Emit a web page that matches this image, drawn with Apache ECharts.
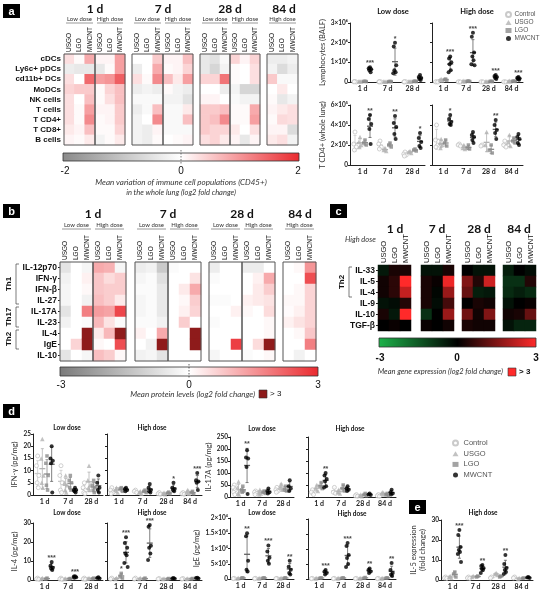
<!DOCTYPE html>
<html><head><meta charset="utf-8">
<script src="https://cdn.jsdelivr.net/npm/echarts@6/dist/echarts.min.js"></script>
<style>html,body{margin:0;padding:0;background:#fff}#c{width:546px;height:590px}</style>
</head><body><div id="c"></div>
<script>
// ---------- categories ----------
const groups = ['Control','USGO','LGO','MWCNT'];
const days3 = ['1 d','7 d','28 d'];
const days4 = ['1 d','7 d','28 d','84 d'];
const materials = ['USGO','LGO','MWCNT'];
const cellTypes = ['cDCs','Ly6c+ pDCs','cd11b+ DCs','MoDCs','NK cells','T cells','T CD4+','T CD8+','B cells'];
const proteins = ['IL-12p70','IFN-γ','IFN-β','IL-27','IL-17A','IL-23','IL-4','IgE','IL-10'];
const genes = ['IL-33','IL-5','IL-4','IL-9','IL-10','TGF-β'];

// ---------- panel a heatmap (log2 FC): cols = low USGO, LGO, MWCNT, high USGO, LGO, MWCNT ----------
const aDay1 = [
 [0.3,0.05,0.8,0.1,0.1,0.9],[-0.3,-0.4,-0.4,-0.4,0.05,0.9],[0.3,0.0,1.4,0.9,1.0,1.5],
 [0.4,0.5,0.5,0.05,0.4,0.6],[0.3,0.0,0.6,0.05,0.3,0.6],[0.3,0.05,0.9,0.1,0.1,0.5],
 [0.3,0.05,1.1,0.05,0.1,0.5],[0.2,0.1,0.6,0.05,0.05,0.4],[0.1,0.05,0.2,-0.2,0.05,0.2]];
const aDay7 = [
 [0.0,0.0,0.5,0.1,0.1,0.6],[-0.3,0.0,0.8,0.05,0.1,0.4],[0.3,0.05,1.1,0.6,0.2,0.9],
 [-0.3,-0.2,-0.3,0.05,-0.2,-0.3],[-0.1,-0.1,-0.1,-0.2,-0.2,-0.5],[-0.3,-0.1,0.6,-0.1,-0.1,0.2],
 [-0.2,0.0,1.1,-0.1,-0.1,0.6],[-0.2,-0.3,0.1,-0.1,-0.1,-0.1],[-0.2,-0.3,0.05,0.0,0.05,0.1]];
const aDay28 = [
 [-0.4,-0.5,-0.1,0.4,0.1,0.4],[-0.4,-0.7,-0.2,0.05,0.0,0.3],[0.4,0.4,1.3,0.05,0.0,0.3],
 [0.0,0.0,-0.3,-0.2,-0.7,-0.7],[0.1,0.1,0.0,-0.1,-0.2,-0.2],[0.5,0.5,0.6,0.05,0.05,0.8],
 [0.5,0.6,1.1,0.05,0.05,0.9],[0.5,0.4,0.4,0.2,0.0,0.3],[0.3,0.4,0.2,0.1,-0.4,0.1]];
const aDay84 = [
 [-0.3,-0.3,-0.2],[-0.2,-0.6,-0.3],[0.5,-0.1,-0.1],[0.0,0.2,0.0],[0.05,-0.4,-0.2],
 [0.1,0.2,0.3],[0.05,0.35,0.3],[0.1,0.1,-0.6],[0.2,0.3,-0.2]];

// ---------- panel b heatmap (log2 FC, 4 = "> 3") ----------
const bDay1 = [
 [-0.6,0.0,-0.2,1.2,1.1,-0.2],[-0.3,0.0,0.2,0.8,0.5,0.7],[-0.2,0.0,0.1,0.8,0.7,0.7],
 [-0.2,0.0,-0.3,0.9,0.7,0.3],[-0.6,0.0,1.8,1.4,1.3,2.6],[-0.3,0.0,-0.1,1.0,0.4,-0.1],
 [0.0,0.0,4,0.3,1.0,4],[0.0,0.6,4,0.1,0.0,2.5],[-0.6,0.0,-0.2,0.9,0.7,0.1]];
const bDay7 = [
 [-0.4,-0.3,-1.2,-0.1,0.0,0.0],[-0.2,-0.1,-0.7,0.0,0.0,0.4],[-0.1,-0.1,-0.5,0.0,0.3,1.2],
 [-0.2,-0.1,-0.5,0.0,0.1,0.7],[-0.2,-0.1,-0.5,0.0,0.2,0.6],[-0.1,-0.1,-0.3,0.0,0.7,0.0],
 [0.2,0.0,1.2,0.0,0.0,4],[0.0,-0.3,4,0.0,0.0,4],[-0.3,-0.2,-0.6,0.0,0.0,0.0]];
const bDay28 = [
 [-0.4,0.0,0.0,-0.4,-0.4,0.0],[-0.1,0.0,0.0,0.0,0.2,1.2],[0.0,0.0,0.0,0.0,0.3,0.7],
 [-0.1,-0.1,0.0,0.2,0.3,0.4],[0.0,0.0,0.2,0.1,0.0,0.5],[-0.1,0.0,0.0,0.0,0.0,0.1],
 [0.0,0.0,0.0,0.0,0.0,0.1],[0.0,0.0,2.7,0.0,0.5,4],[-0.2,0.0,0.0,-0.1,0.0,0.1]];
const bDay84 = [
 [0.0,0.1,1.5],[0.0,0.0,2.5],[0.0,0.1,0.6],[0.1,0.1,0.6],[0.05,0.2,0.6],
 [0.2,0.4,0.6],[0.0,0.1,0.8],[0.0,0.0,1.8],[0.0,-0.3,0.0]];

// ---------- panel c heatmap (high dose, log2 FC) ----------
const cDay1 = [[-0.4,0.3,0.3],[0.2,0.5,3],[0.2,0.5,2.3],[-0.3,-0.2,0.4],[0.3,-0.4,3],[0,0.1,0]];
const cDay7 = [[-0.3,-0.3,0.3],[0.3,0.1,2.8],[0.3,-0.1,1.8],[0.3,-0.2,0.8],[-0.8,0,1.8],[0.1,0,0.2]];
const cDay28 = [[0,-0.3,-0.3],[1.5,0.4,2.4],[1.2,-0.5,-0.4],[0,0.3,0.2],[1.3,0.2,1.5],[0.3,0.2,0.2]];
const cDay84 = [[-0.5,0,-0.2],[-0.8,-0.8,0.4],[-0.7,-0.5,-0.7],[-0.3,0,0.1],[0.2,0.3,1.2],[-0.3,-0.6,-0.6]];

// ---------- scatter data: [group][timepoint] = individual values ----------
const lymphLow = [
 [[2e4,1e4,0,1.5e4],[1e4,5e3,0,1e4],[1e4,0,5e3,1e4]],
 [[4e4,3e4,2e4],[3e4,2e4,1e4],[4e4,3e4,2e4]],
 [[4e4,3e4,2e4],[3e4,2e4,2e4],[5e4,3e4,2e4]],
 [[7.5e5,7e5,6.5e5,6e5,5e5],[2e6,1.8e6,8.5e5,6e5,5e5,4.5e5],[3.5e5,2.5e5,2e5,1.5e5,1e5]]];
const lymphLowStars = [[0,3,'***'],[1,3,'*']];
const lymphHigh = [
 [[1e4,5e3,0],[1e4,5e3,0],[1e4,5e3,0],[1e4,5e3,0]],
 [[1.5e5,1e5,8e4],[6e4,4e4,3e4],[3e4,2e4,1e4],[6e4,4e4,2e4]],
 [[1.5e5,1.2e5,8e4],[5e4,4e4,3e4],[4e4,3e4,2e4],[5e4,4e4,3e4]],
 [[1.3e6,1.2e6,1e6,9e5,6e5,5e5],[2.5e6,2.3e6,1.5e6,1.3e6,1.1e6,9e5,8.5e5],[3.5e5,3e5,2.5e5,2e5,1.5e5],[2.5e5,2.2e5,1.8e5,1.5e5,1.2e5]]];
const lymphHighStars = [[0,3,'***'],[1,3,'***'],[2,3,'***'],[3,3,'***']];
const tcd4Low = [
 [[3.3e5,2.1e5,1.8e5,1.5e5],[2.4e5,2.1e5,1.8e5,1.6e5],[1.3e5,1.1e5,1e5,0.9e5]],
 [[2.8e5,2.3e5,2e5,1.8e5],[1.7e5,1.5e5,1.4e5],[1.4e5,1.3e5,1.2e5]],
 [[2.5e5,2.2e5,2e5],[2.2e5,2e5,1.8e5],[1.6e5,1.5e5,1.4e5]],
 [[5e5,4.6e5,4.1e5,3.6e5,2.1e5],[4.9e5,4.2e5,3.8e5,3.1e5,2.6e5],[3.2e5,2.7e5,2.3e5,1.9e5,1.7e5]]];
const tcd4LowStars = [[0,3,'**'],[1,3,'**'],[2,3,'*']];
const tcd4High = [
 [[4e5,2.5e5,2e5,1.8e5],[2.1e5,2e5,1.9e5],[2e5,1.9e5],[2.4e5,2e5,1.8e5]],
 [[2.6e5,2.2e5,2e5,1.7e5],[2e5,1.7e5,1.6e5],[3.3e5,2e5,1.5e5],[3e5,2.3e5,1.9e5]],
 [[2.5e5,2.2e5,1.9e5],[2e5,1.7e5,1.6e5],[2e5,1.5e5,1.2e5],[2.7e5,2.4e5,2.2e5]],
 [[5e5,4.6e5,4.3e5,4.1e5,4e5],[3.3e5,3e5,2.8e5,2.5e5,2.2e5],[4.5e5,4e5,3.5e5,3.2e5,2.6e5],[3.1e5,2.8e5,2.6e5,2.2e5,2e5]]];
const tcd4HighStars = [[0,3,'*'],[2,3,'**']];
const ifnLow = [
 [[16,12,8,5,3],[12,8,5,2,1],[5,3,2,1,0.5]],
 [[23,15,8,5,3],[8,5,4,2,1],[12,6,4,3,2]],
 [[16,13,8,4,2],[8,6,5,3,2],[6,4,3,2,1]],
 [[20,15,14,13,1],[3,2,2,1.5,1],[8,5,3,2,1]]];
const ifnLowStars = [];
const ifnHigh = [
 [[3,2,1,0.5],[2,1.5,1],[1,0.5,0.3],[1,0.5,0.3]],
 [[3,2,1],[1.5,1,0.5],[1,0.5,0.3],[2,1,0.5]],
 [[3,2.5,1.5],[2,1.5,1],[1.2,0.8,0.5],[1.5,1,0.5]],
 [[3,2.5,2,1.5],[4.5,3,2,1.5,1],[5,3,2.5,2,1.5],[9,6,5.5,5,2]]];
const ifnHighStars = [[2,3,'*'],[3,3,'***']];
const il17Low = [
 [[50,40,30,20,10],[25,20,15,10],[40,30,25,20]],
 [[65,40,25,15,10],[30,20,15,10],[55,40,30]],
 [[45,30,25,20],[25,20,15],[45,30,25]],
 [[195,165,160,125,12],[35,25,20,15],[70,45,35,25]]];
const il17LowStars = [[0,3,'**']];
const il17High = [
 [[30,20,10],[40,20,15],[10,5,3],[10,5,3]],
 [[50,35,25],[30,20,15],[10,5,3],[20,15,10]],
 [[60,45,35],[50,35,25],[15,10,5],[15,10,5]],
 [[100,90,75,65,45,40],[45,35,30,25],[15,10,8],[30,20,15,10]]];
const il17HighStars = [[0,3,'**']];
const il4Low = [
 [[1,0.5,0.3],[1,0.5,0.3],[1,0.5,0.3]],
 [[1,0.5],[0.8,0.5],[1,0.6]],
 [[1,0.5],[0.8,0.6],[1,0.6]],
 [[9.5,7.5,6.5,6,5.3],[2,1.8,1.5,1.2],[1.5,1,0.8]]];
const il4LowStars = [[0,3,'***'],[1,3,'***']];
const il4High = [
 [[1,0.5],[1,0.5],[0.8,0.5],[0.8,0.5]],
 [[1,0.5],[1,0.5],[0.8,0.5],[0.8,0.5]],
 [[3.5,2,1],[1,0.5],[0.8,0.5],[0.8,0.5]],
 [[22.5,19.5,17,14,13,9,6.8],[29,28,18,17,14,10.5],[1,0.8,0.6],[1.2,1,0.8]]];
const il4HighStars = [[0,2,'*'],[0,3,'***'],[1,3,'***']];
const igeLow = [
 [[200,100],[200,100],[200,100]],
 [[300,200],[300,200],[300,200]],
 [[400,300],[400,300],[400,300]],
 [[15000,14000,6000,3000,2500],[11000,9000,7000,6000,5000],[6000,4000,3000,2000,1500]]];
const igeLowStars = [[0,3,'**'],[1,3,'***'],[2,3,'**']];
const igeHigh = [
 [[200,100],[200,100],[200,100],[200,100]],
 [[300,200],[300,200],[300,200],[300,200]],
 [[400,300],[400,300],[500,300],[400,300]],
 [[3000,2500,2000,1500],[12000,11000,8000,7000,5000,4000],[3500,3000,2500,2000],[5300,3000,2000,1500,1000]]];
const igeHighStars = [[0,3,'***'],[1,3,'***'],[2,3,'**'],[3,3,'**']];
const il5 = [
 [[1.5,1,0.8],[1.5,1,0.8],[1.5,1],[1.5,1]],
 [[2,1.5,1],[2,1.5],[3.5,3,2.5],[1,0.5]],
 [[4,3,1.5],[2,1.5],[2,1.5],[1,0.8]],
 [[25,22.5,16.5,15,14,13,9],[7.5,7,6,5.5,5,3.5],[12.5,8,6,5,4,3],[1.5,1.2,1]]];
const il5Stars = [[0,3,'***'],[1,3,'**'],[2,3,'**']];

// ---------- builders ----------
const grids=[], xAxes=[], yAxes=[], series=[], G=[];
const vmA=[], vmB=[], vmC=[];
const LAB='Liberation Sans', CAL='Lato';

function heat(o){
  const gi=grids.push({left:o.left,top:o.top,width:o.width,height:o.height,show:!!o.border,
    borderColor:o.border||'rgba(0,0,0,0)',borderWidth:1,backgroundColor:'rgba(0,0,0,0)',z:10})-1;
  const xi=xAxes.push({gridIndex:gi,type:'category',position:'top',data:materials,
    axisLine:{show:false},axisTick:{show:false},splitLine:{show:false},axisLabel:{show:false}})-1;
  const yi=yAxes.push({gridIndex:gi,type:'category',inverse:true,data:o.rows,
    axisLine:{show:false},axisTick:{show:!!(o.showRows&&o.tick),alignWithLabel:true,interval:0,length:2,lineStyle:{color:'#222'}},
    splitLine:{show:false},
    axisLabel:{show:!!o.showRows,interval:0,fontSize:o.ysize,fontWeight:'bold',margin:3,color:'#111',fontFamily:LAB}})-1;
  // column (material) labels, rotated, reading bottom-to-top
  materials.forEach((m,c)=>T(o.left+(c+0.5)*o.width/3,o.top-2,m,{size:o.xsize,rot:Math.PI/2,align:'left',color:'#111'}));
  const normal=[],over=[];
  o.values.forEach((row,r)=>{for(let c=0;c<3;c++){const v=row[o.colStart+c];(v>3?over:normal).push([c,r,v]);}});
  o.vm.push(series.push({type:'heatmap',xAxisIndex:xi,yAxisIndex:yi,data:normal,silent:true,z:2})-1);
  if(over.length) series.push({type:'heatmap',xAxisIndex:xi,yAxisIndex:yi,data:over,silent:true,itemStyle:{color:'#8e1b1b'},z:2});
}

const OFF=[-0.3,-0.1,0.1,0.3];
const JIT=[0,-0.05,0.05,-0.025,0.025,-0.07,0.07];
const SYM=['circle','triangle','rect','circle'];
const SIZE=[4,4.5,3.5,4];
const ISTY=[{color:'#fff',borderColor:'#bdbdbd',borderWidth:0.9},{color:'#b3b3b3'},{color:'#8c8c8c'},{color:'#000'}];
const BCOL=['#c8c8c8','#b3b3b3','#8c8c8c','#606060'];
const mean=a=>a.reduce((s,v)=>s+v,0)/a.length;
const sd=a=>{if(a.length<2)return 0;const m=mean(a);return Math.sqrt(a.reduce((s,v)=>s+(v-m)*(v-m),0)/(a.length-1));};

function barRender(params, api){
  const x=api.value(0), m=api.value(1), lo=api.value(2), hi=api.value(3), g=api.value(4);
  const pm=api.coord([x,m]), pl=api.coord([x,lo]), ph=api.coord([x,hi]);
  const col=BCOL[g];
  return {type:'group',children:[
    {type:'line',shape:{x1:pl[0],y1:pl[1],x2:ph[0],y2:ph[1]},style:{stroke:col,lineWidth:0.8}},
    {type:'line',shape:{x1:ph[0]-1.5,y1:ph[1],x2:ph[0]+1.5,y2:ph[1]},style:{stroke:col,lineWidth:0.8}},
    {type:'line',shape:{x1:pl[0]-1.5,y1:pl[1],x2:pl[0]+1.5,y2:pl[1]},style:{stroke:col,lineWidth:0.8}},
    {type:'line',shape:{x1:pm[0]-3,y1:pm[1],x2:pm[0]+3,y2:pm[1]},style:{stroke:col,lineWidth:1.3}}
  ]};
}

function plot(o){
  const gi=grids.push({left:o.left,top:o.top,width:o.width,height:o.height})-1;
  const n=o.days.length;
  xAxes.push({gridIndex:gi,type:'category',data:o.days,boundaryGap:true,
    axisLine:{lineStyle:{color:'#222',width:1}},axisTick:{show:false},
    axisLabel:{interval:0,fontSize:7,fontWeight:'bold',margin:3,color:'#222',fontFamily:CAL}});
  const xv=xAxes.push({gridIndex:gi,type:'value',min:0,max:n,show:false})-1;
  const yi=yAxes.push({gridIndex:gi,type:'value',min:0,max:o.ymax,interval:o.yint,
    axisLine:{show:true,lineStyle:{color:'#222',width:1}},axisTick:{show:true,length:2,lineStyle:{color:'#222'}},
    splitLine:{show:false},
    axisLabel:{show:!!o.fmt,fontSize:6.5,fontWeight:'bold',margin:2,color:'#222',fontFamily:CAL,formatter:o.fmt||undefined},
    name:o.name||'',nameLocation:'middle',nameGap:o.gap||20,
    nameTextStyle:{fontSize:7.5,color:'#333',fontFamily:CAL,lineHeight:9}})-1;
  o.data.forEach((grp,g)=>{
    const pts=[];
    grp.forEach((vals,t)=>vals.forEach((v,k)=>pts.push([t+0.5+OFF[g]+JIT[k%JIT.length],v])));
    series.push({type:'scatter',name:groups[g],xAxisIndex:xv,yAxisIndex:yi,data:pts,symbol:SYM[g],
      symbolSize:SIZE[g],itemStyle:ISTY[g],z:4,silent:true});
  });
  const bars=[];
  o.data.forEach((grp,g)=>grp.forEach((vals,t)=>{const m=mean(vals),s=sd(vals);bars.push([t+0.5+OFF[g],m,Math.max(0,m-s),m+s,g]);}));
  series.push({type:'custom',xAxisIndex:xv,yAxisIndex:yi,data:bars,renderItem:barRender,z:3,silent:true});
  const st=o.stars.map(([t,g,txt])=>{const v=o.data[g][t];return {value:[t+0.5+OFF[g],Math.max(Math.max(...v),mean(v)+sd(v))],name:txt};});
  if(st.length) series.push({type:'scatter',xAxisIndex:xv,yAxisIndex:yi,data:st,symbolSize:1,
    itemStyle:{color:'rgba(0,0,0,0)'},silent:true,z:5,
    label:{show:true,position:'top',distance:0,formatter:p=>p.name,fontSize:7,fontWeight:'bold',color:'#111'}});
}

function T(x,y,text,o={}){G.push({type:'text',x,y,rotation:o.rot||0,silent:true,z:20,
  style:{text,fill:o.color||'#111',fontSize:o.size||8,fontWeight:o.weight||'normal',fontStyle:o.style||'normal',
  fontFamily:o.family||LAB,align:o.align||'center',verticalAlign:o.va||'middle'}});}
function L(x1,y1,x2,y2,o={}){G.push({type:'line',silent:true,z:20,shape:{x1,y1,x2,y2},
  style:{stroke:o.color||'#444',lineWidth:o.w||0.7,lineDash:o.dash||null}});}
function P(points,o={}){G.push({type:'polyline',silent:true,z:20,shape:{points},style:{stroke:o.color||'#444',lineWidth:o.w||0.7,fill:null}});}
function box(x,y,letter){G.push({type:'rect',silent:true,z:20,shape:{x,y,width:17,height:14},style:{fill:'#000'}});
  T(x+8.5,y+7.5,letter,{color:'#fff',weight:'bold',size:11});}
function bar(x,y,w,h,stops){G.push({type:'rect',silent:true,z:20,shape:{x,y,width:w,height:h},
  style:{stroke:'#333',lineWidth:0.8,fill:{type:'linear',x:0,y:0,x2:1,y2:0,colorStops:stops.map((c,i)=>({offset:i/(stops.length-1),color:c}))}}});}
function dose(x1,x2,y,label){T((x1+x2)/2,y,label,{size:6,color:'#333',family:CAL});L(x1+2,y+4,x2-2,y+4,{color:'#555',w:0.6});}

// ---------- panel a heatmaps ----------
const aTop=54,aH=91;
[[aDay1,64,95],[aDay7,132,163],[aDay28,200,230]].forEach(([v,l,h],i)=>{
  heat({left:l,top:aTop,width:h-l,height:aH,rows:cellTypes,values:v,colStart:0,showRows:i===0,border:'#555',xsize:6.5,ysize:8,vm:vmA});
  heat({left:h,top:aTop,width:30,height:aH,rows:cellTypes,values:v,colStart:3,showRows:false,border:'#555',xsize:6.5,ysize:8,vm:vmA});
  dose(l,h,19,'Low dose');dose(h,h+30,19,'High dose');
});
heat({left:267,top:aTop,width:31,height:aH,rows:cellTypes,values:aDay84,colStart:0,showRows:false,border:'#555',xsize:6.5,ysize:8,vm:vmA});
dose(267,298,19,'High dose');
T(95,9,'1 d',{size:12,weight:'bold',family:CAL});T(163,9,'7 d',{size:12,weight:'bold',family:CAL});
T(230,9,'28 d',{size:12,weight:'bold',family:CAL});T(284,9,'84 d',{size:12,weight:'bold',family:CAL});
bar(63,153,236,8,['#8a8a8a','#ffffff','#ea2a2f']);
L(181,150,181,164,{color:'#444',dash:[1.5,1.5]});
T(65,171,'-2',{size:10});T(181,171,'0',{size:10});T(298,171,'2',{size:10});
T(181,182,'Mean variation of immune cell populations (CD45+)',{size:8,style:'italic',color:'#333',family:CAL});
T(181,193,'in the whole lung (log2 fold change)',{size:7.5,style:'italic',color:'#333',family:CAL});
box(3,4,'a');

// ---------- panel a scatter ----------
const fmtE=(d,p)=>v=>v===0?'0':(v/d)+'×10'+p;
plot({left:350,top:23,width:75,height:59,days:days3,data:lymphLow,stars:lymphLowStars,ymax:3e6,yint:1e6,fmt:fmtE(1e6,'⁶'),name:'Lymphocytes (BALF)',gap:22});
plot({left:432,top:23,width:91,height:59,days:days4,data:lymphHigh,stars:lymphHighStars,ymax:3e6,yint:1e6});
plot({left:350,top:105,width:75,height:60,days:days3,data:tcd4Low,stars:tcd4LowStars,ymax:6e5,yint:2e5,fmt:fmtE(1e5,'⁵'),name:'T CD4+ (whole lung)',gap:22});
plot({left:432,top:105,width:91,height:60,days:days4,data:tcd4High,stars:tcd4HighStars,ymax:6e5,yint:2e5});
T(393,12,'Low dose',{size:7.5,weight:'bold',family:CAL});T(477,12,'High dose',{size:7.5,weight:'bold',family:CAL});

// ---------- panel b heatmaps ----------
const bTop=262,bH=99;
[[bDay1,60,93],[bDay7,135,168],[bDay28,209,242]].forEach(([v,l,h],i)=>{
  heat({left:l,top:bTop,width:33,height:bH,rows:proteins,values:v,colStart:0,showRows:i===0,tick:true,border:'#555',xsize:6.5,ysize:8.5,vm:vmB});
  heat({left:h,top:bTop,width:33,height:bH,rows:proteins,values:v,colStart:3,showRows:false,border:'#555',xsize:6.5,ysize:8.5,vm:vmB});
  dose(l,h,225,'Low dose');dose(h,h+33,225,'High dose');
});
heat({left:283,top:bTop,width:33,height:bH,rows:proteins,values:bDay84,colStart:0,showRows:false,border:'#555',xsize:6.5,ysize:8.5,vm:vmB});
dose(283,316,225,'High dose');
T(93,214,'1 d',{size:12,weight:'bold',family:CAL});T(168,214,'7 d',{size:12,weight:'bold',family:CAL});
T(242,214,'28 d',{size:12,weight:'bold',family:CAL});T(300,214,'84 d',{size:12,weight:'bold',family:CAL});
P([[19,264],[16,264],[16,304],[19,304]]);P([[19,307],[16,307],[16,327],[19,327]]);P([[19,330],[16,330],[16,349],[19,349]]);
T(9,284,'Th1',{size:8,weight:'bold',rot:Math.PI/2});T(9,317,'Th17',{size:8,weight:'bold',rot:Math.PI/2});T(9,339,'Th2',{size:8,weight:'bold',rot:Math.PI/2});
bar(60,367,258,9,['#7a7a7a','#ffffff','#ea2a2f']);
L(189,364,189,379,{color:'#222',dash:[1.5,1.5]});
T(61,385,'-3',{size:10});T(189,385,'0',{size:10});T(318,385,'3',{size:10});
T(255,394,'Mean protein levels (log2 fold change)',{size:8,style:'italic',color:'#333',align:'right',family:CAL});
G.push({type:'rect',silent:true,z:20,shape:{x:259,y:390,width:8,height:8},style:{fill:'#8e1b1b',stroke:'#333',lineWidth:0.6}});
T(270,394,'> 3',{size:8,align:'left'});
box(3,204,'b');

// ---------- panel c heatmaps ----------
[[cDay1,378],[cDay7,421],[cDay28,462],[cDay84,503]].forEach(([v,l],i)=>{
  heat({left:l,top:265,width:33,height:66,rows:genes,values:v,colStart:0,showRows:i===0,tick:true,border:null,xsize:7.5,ysize:8.5,vm:vmC});
});
T(395,229,'1 d',{size:12,weight:'bold',family:CAL});T(437,229,'7 d',{size:12,weight:'bold',family:CAL});
T(479,229,'28 d',{size:12,weight:'bold',family:CAL});T(519,229,'84 d',{size:12,weight:'bold',family:CAL});
T(345,240,'High dose',{size:7.5,style:'italic',color:'#333',align:'left',family:CAL});
P([[352,267],[349,267],[349,297],[352,297]]);
T(342,282,'Th2',{size:8,weight:'bold',rot:Math.PI/2});
bar(379,338,157,9,['#1db34a','#000000','#ff2a2a']);
T(380,358,'-3',{size:10,weight:'bold'});T(457,358,'0',{size:10,weight:'bold'});T(536,358,'3',{size:10,weight:'bold'});
T(503,372,'Mean gene expression (log2 fold change)',{size:7.5,style:'italic',color:'#333',align:'right',family:CAL});
G.push({type:'rect',silent:true,z:20,shape:{x:508,y:368,width:8,height:8},style:{fill:'#ff2a2a',stroke:'#333',lineWidth:0.6}});
T(519,372,'> 3',{size:8,align:'left',weight:'bold'});
box(330,204,'c');

// ---------- panel d / e scatter ----------
plot({left:33,top:434,width:70,height:61,days:days3,data:ifnLow,stars:ifnLowStars,ymax:25,yint:5,fmt:v=>v,name:'IFN-γ (pg/mg)',gap:14});
plot({left:107,top:434,width:95,height:61,days:days4,data:ifnHigh,stars:ifnHighStars,ymax:25,yint:5});
plot({left:230,top:437,width:64,height:60,days:days3,data:il17Low,stars:il17LowStars,ymax:250,yint:50,fmt:v=>v,name:'IL-17A (pg/mg)',gap:17});
plot({left:308,top:437,width:88,height:60,days:days4,data:il17High,stars:il17HighStars,ymax:250,yint:50});
plot({left:33,top:523,width:70,height:57,days:days3,data:il4Low,stars:il4LowStars,ymax:30,yint:10,fmt:v=>v,name:'IL-4 (pg/mg)',gap:14});
plot({left:107,top:523,width:95,height:57,days:days4,data:il4High,stars:il4HighStars,ymax:30,yint:10});
const igeFmt=v=>({0:'0',5000:'5×10³',10000:'1×10⁴',15000:'1.5×10⁴',20000:'2×10⁴'})[v];
plot({left:230,top:518,width:64,height:61,days:days3,data:igeLow,stars:igeLowStars,ymax:20000,yint:5000,fmt:igeFmt,name:'IgE (pg/mg)',gap:20});
plot({left:308,top:519,width:88,height:60,days:days4,data:igeHigh,stars:igeHighStars,ymax:20000,yint:5000});
plot({left:441,top:520,width:92,height:60,days:days4,data:il5,stars:il5Stars,ymax:30,yint:10,fmt:v=>v,name:'IL-5 expression\n(fold change)',gap:12});
[[67,428,'Low dose'],[152,428,'High dose'],[262,429,'Low dose'],[350,429,'High dose'],
 [67,513,'Low dose'],[152,513,'High dose'],[262,513,'Low dose'],[352,514,'High dose'],[483,513,'High dose']]
 .forEach(([x,y,t])=>T(x,y,t,{size:6.5,weight:'bold',family:CAL}));
box(3,404,'d');box(409,500,'e');

const option={
  animation:false,
  backgroundColor:'#fff',
  grid:grids,xAxis:xAxes,yAxis:yAxes,series,
  visualMap:[
    {type:'continuous',show:false,min:-2,max:2,seriesIndex:vmA,inRange:{color:['#8a8a8a','#ffffff','#ea2a2f']}},
    {type:'continuous',show:false,min:-3,max:3,seriesIndex:vmB,inRange:{color:['#7a7a7a','#ffffff','#ea2a2f']}},
    {type:'continuous',show:false,min:-3,max:3,seriesIndex:vmC,inRange:{color:['#1db34a','#000000','#ff2a2a']}}
  ],
  legend:[
    {data:groups,left:505,top:11,orient:'vertical',itemWidth:6,itemHeight:5,itemGap:1,padding:0,selectedMode:false,
     textStyle:{fontSize:6.5,lineHeight:6,color:'#555',fontFamily:LAB,padding:[0,0,0,-2]}},
    {data:groups,left:452,top:439,orient:'vertical',itemWidth:6,itemHeight:5,itemGap:2.7,padding:0,selectedMode:false,
     textStyle:{fontSize:7.5,lineHeight:8,color:'#555',fontFamily:LAB}}
  ],
  graphic:G
};
const chart=echarts.init(document.getElementById('c'),null,{renderer:'canvas'});
chart.setOption(option);
</script></body></html>
